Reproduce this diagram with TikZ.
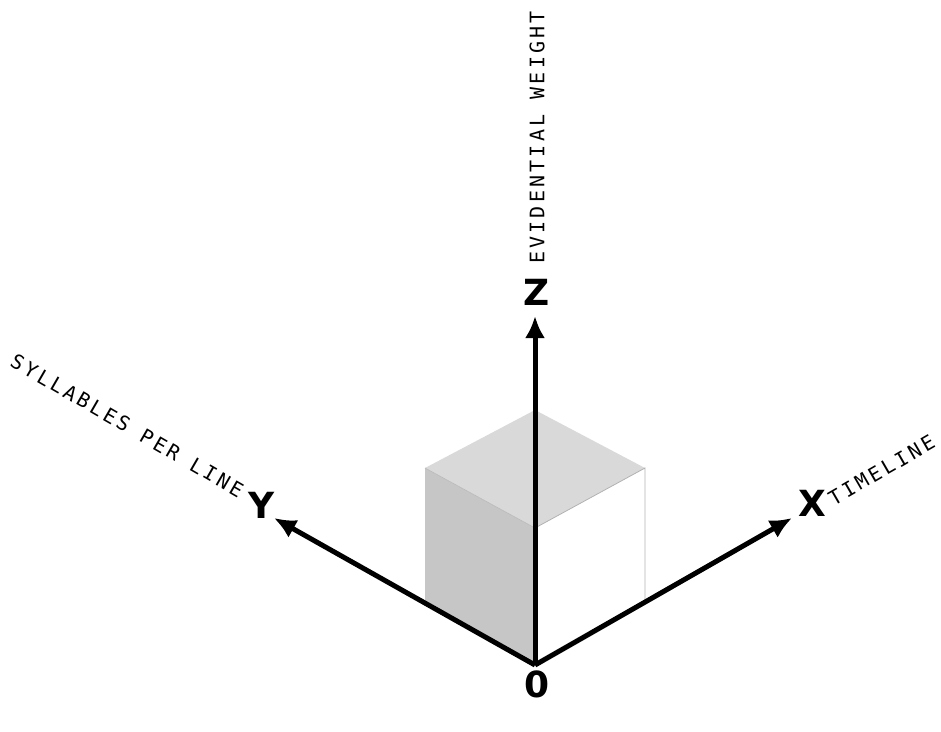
\documentclass[tikz,border=0pt]{standalone}
\usepackage{fontspec}
\usetikzlibrary{arrows.meta}
\newfontfamily\lbl[LetterSpace=16]{DejaVu Sans Mono}
\newfontfamily\axl{DejaVu Sans}
\begin{document}
\begin{tikzpicture}[x=1pt,y=-1pt,
  axis/.style={line width=5pt,-{Latex[length=22pt,width=20pt]}},
  lab/.style={font=\lbl\fontsize{20}{20}\selectfont,inner sep=0pt},
  big/.style={font=\axl\bfseries\fontsize{36}{36}\selectfont,inner sep=0pt}]
\useasboundingbox (0,0) rectangle (941,731);
\coordinate (O) at (535,665);
\coordinate (Zt) at (535,316);
\coordinate (Xt) at (792,518);
\coordinate (Yt) at (274,518);
\fill[gray!45!white] (425,600) -- (535,665) -- (535,528) -- (425,468) -- cycle;
\fill[gray!30!white] (425,468) -- (535,410) -- (645,468) -- (535,528) -- cycle;
\draw[gray!60, line width=0.8pt] (535,528) -- (645,468) -- (645,600) -- (535,665);
\draw[gray!55, line width=0.6pt] (425,468) -- (535,528);
\draw[axis] (O) -- (Zt);
\draw[axis] (O) -- (Xt);
\draw[axis] (O) -- (Yt);
\node[big] (z) at (537,292) {Z};
\node[big] (x) at (812,503) {X};
\node[big] (y) at (262,505) {Y};
\node[big] (o) at (537,684) {0};
\node[lab,rotate=90,anchor=west] (ev) at (537,264) {EVIDENTIAL WEIGHT};
\node[lab,rotate=30,anchor=west] (tl) at (830,500) {TIMELINE};
\node[lab,rotate=-30,anchor=east] (sp) at (242,492) {SYLLABLES PER LINE};
\end{tikzpicture}
\end{document}
